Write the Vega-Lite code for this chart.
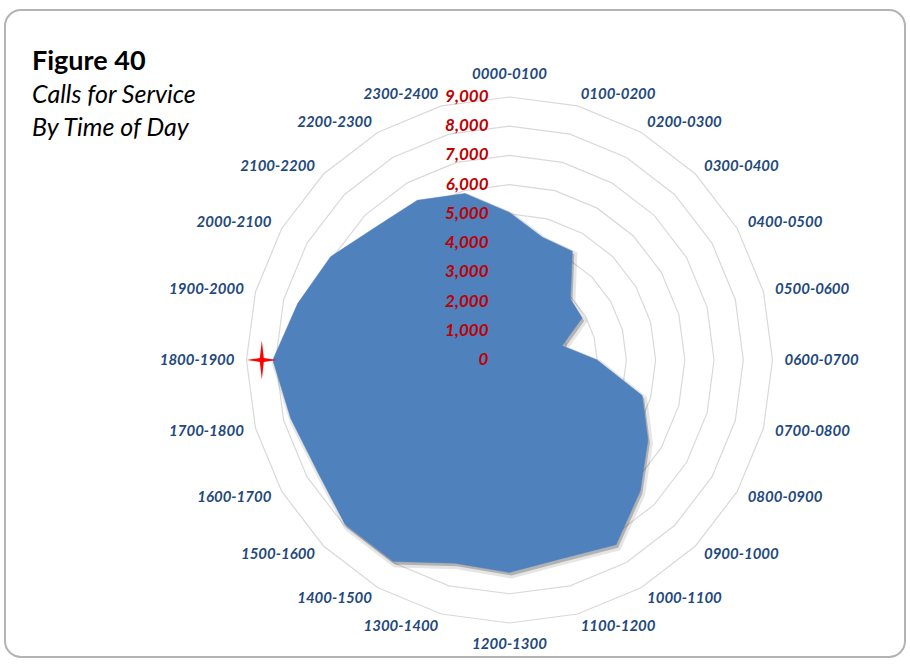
{
  "$schema": "https://vega.github.io/schema/vega-lite/v6.json",
  "width": 910,
  "height": 664,
  "autosize": {"type": "fit", "contains": "padding"},
  "padding": {"left": 5, "top": 10, "right": 5, "bottom": 7},
  "background": "white",
  "view": {"stroke": "#B3B3B3", "strokeWidth": 2, "cornerRadius": 16, "fill": "white"},
  "config": {"font": "Lato"},
  "title": {
    "text": "Figure 40",
    "subtitle": ["Calls for Service", "By Time of Day"],
    "anchor": "start",
    "frame": "group",
    "orient": "top",
    "offset": -132,
    "dx": 27,
    "font": "Lato",
    "fontSize": 27,
    "fontWeight": "bold",
    "color": "#000000",
    "subtitleFont": "Lato",
    "subtitleFontSize": 25,
    "subtitleFontStyle": "italic",
    "subtitleColor": "#000000",
    "subtitleLineHeight": 33,
    "subtitlePadding": 7
  },
  "datasets": {
    "calls": [
      {"hour": 0, "label": "0000-0100", "calls": 5050},
      {"hour": 1, "label": "0100-0200", "calls": 4350},
      {"hour": 2, "label": "0200-0300", "calls": 4300},
      {"hour": 3, "label": "0300-0400", "calls": 2950},
      {"hour": 4, "label": "0400-0500", "calls": 2870},
      {"hour": 5, "label": "0500-0600", "calls": 1870},
      {"hour": 6, "label": "0600-0700", "calls": 3000},
      {"hour": 7, "label": "0700-0800", "calls": 4700},
      {"hour": 8, "label": "0800-0900", "calls": 5470},
      {"hour": 9, "label": "0900-1000", "calls": 6330},
      {"hour": 10, "label": "1000-1100", "calls": 7300},
      {"hour": 11, "label": "1100-1200", "calls": 7030},
      {"hour": 12, "label": "1200-1300", "calls": 7270},
      {"hour": 13, "label": "1300-1400", "calls": 7200},
      {"hour": 14, "label": "1400-1500", "calls": 7960},
      {"hour": 15, "label": "1500-1600", "calls": 7960},
      {"hour": 16, "label": "1600-1700", "calls": 7600},
      {"hour": 17, "label": "1700-1800", "calls": 7750},
      {"hour": 18, "label": "1800-1900", "calls": 8100},
      {"hour": 19, "label": "1900-2000", "calls": 7500},
      {"hour": 20, "label": "2000-2100", "calls": 7070},
      {"hour": 21, "label": "2100-2200", "calls": 6450},
      {"hour": 22, "label": "2200-2300", "calls": 6310},
      {"hour": 23, "label": "2300-2400", "calls": 5900}
    ],
    "rings": [
      {"level": 1000, "hour": [0,1,2,3,4,5,6,7,8,9,10,11,12,13,14,15,16,17,18,19,20,21,22,23]},
      {"level": 2000, "hour": [0,1,2,3,4,5,6,7,8,9,10,11,12,13,14,15,16,17,18,19,20,21,22,23]},
      {"level": 3000, "hour": [0,1,2,3,4,5,6,7,8,9,10,11,12,13,14,15,16,17,18,19,20,21,22,23]},
      {"level": 4000, "hour": [0,1,2,3,4,5,6,7,8,9,10,11,12,13,14,15,16,17,18,19,20,21,22,23]},
      {"level": 5000, "hour": [0,1,2,3,4,5,6,7,8,9,10,11,12,13,14,15,16,17,18,19,20,21,22,23]},
      {"level": 6000, "hour": [0,1,2,3,4,5,6,7,8,9,10,11,12,13,14,15,16,17,18,19,20,21,22,23]},
      {"level": 7000, "hour": [0,1,2,3,4,5,6,7,8,9,10,11,12,13,14,15,16,17,18,19,20,21,22,23]},
      {"level": 8000, "hour": [0,1,2,3,4,5,6,7,8,9,10,11,12,13,14,15,16,17,18,19,20,21,22,23]},
      {"level": 9000, "hour": [0,1,2,3,4,5,6,7,8,9,10,11,12,13,14,15,16,17,18,19,20,21,22,23]}
    ],
    "ticks": [
      {"value": 0}, {"value": 1000}, {"value": 2000}, {"value": 3000}, {"value": 4000},
      {"value": 5000}, {"value": 6000}, {"value": 7000}, {"value": 8000}, {"value": 9000}
    ]
  },
  "layer": [
    {
      "data": {"name": "rings"},
      "transform": [
        {"flatten": ["hour"]},
        {"calculate": "datum.level * sin(datum.hour * PI / 12)", "as": "px"},
        {"calculate": "datum.level * cos(datum.hour * PI / 12)", "as": "py"}
      ],
      "mark": {"type": "line", "interpolate": "linear-closed", "stroke": "#D9D9D9", "strokeWidth": 1.2},
      "encoding": {
        "x": {"field": "px", "type": "quantitative", "scale": {"domain": [-17265, 13535], "nice": false, "zero": false}, "axis": null},
        "y": {"field": "py", "type": "quantitative", "scale": {"domain": [-10164, 11977], "nice": false, "zero": false}, "axis": null},
        "detail": {"field": "level", "type": "nominal"},
        "order": {"field": "hour", "type": "quantitative"}
      }
    },
    {
      "data": {"name": "calls"},
      "transform": [
        {"calculate": "datum.calls * sin(datum.hour * PI / 12)", "as": "px"},
        {"calculate": "datum.calls * cos(datum.hour * PI / 12)", "as": "py"}
      ],
      "mark": {"type": "line", "interpolate": "linear-closed", "fill": "#000000", "fillOpacity": 0.22, "stroke": "#000000", "strokeOpacity": 0.1, "strokeWidth": 6, "xOffset": 2, "yOffset": 3},
      "encoding": {
        "x": {"field": "px", "type": "quantitative"},
        "y": {"field": "py", "type": "quantitative"},
        "order": {"field": "hour", "type": "quantitative"}
      }
    },
    {
      "data": {"name": "calls"},
      "transform": [
        {"calculate": "datum.calls * sin(datum.hour * PI / 12)", "as": "px"},
        {"calculate": "datum.calls * cos(datum.hour * PI / 12)", "as": "py"}
      ],
      "mark": {"type": "line", "interpolate": "linear-closed", "fill": "#4F81BD", "stroke": "#4F81BD", "strokeWidth": 0.5},
      "encoding": {
        "x": {"field": "px", "type": "quantitative"},
        "y": {"field": "py", "type": "quantitative"},
        "order": {"field": "hour", "type": "quantitative"}
      }
    },
    {
      "data": {"name": "ticks"},
      "mark": {"type": "text", "align": "right", "baseline": "middle", "dx": -21, "fontSize": 17, "fontWeight": "bold", "fontStyle": "italic", "color": "#C00000", "font": "Lato"},
      "encoding": {
        "x": {"datum": 0, "type": "quantitative"},
        "y": {"field": "value", "type": "quantitative"},
        "text": {"field": "value", "type": "quantitative", "format": ","}
      }
    },
    {
      "data": {"name": "calls"},
      "transform": [
        {"filter": "datum.hour > 0 && datum.hour < 12"},
        {"calculate": "9411 * sin(datum.hour * PI / 12)", "as": "px"},
        {"calculate": "9411 * cos(datum.hour * PI / 12)", "as": "py"}
      ],
      "mark": {"type": "text", "align": "left", "baseline": "middle", "fontSize": 15, "fontWeight": "bold", "fontStyle": "italic", "color": "#1F497D", "font": "Lato"},
      "encoding": {
        "x": {"field": "px", "type": "quantitative"},
        "y": {"field": "py", "type": "quantitative"},
        "text": {"field": "label", "type": "nominal"}
      }
    },
    {
      "data": {"name": "calls"},
      "transform": [
        {"filter": "datum.hour > 12"},
        {"calculate": "9411 * sin(datum.hour * PI / 12)", "as": "px"},
        {"calculate": "9411 * cos(datum.hour * PI / 12)", "as": "py"}
      ],
      "mark": {"type": "text", "align": "right", "baseline": "middle", "fontSize": 15, "fontWeight": "bold", "fontStyle": "italic", "color": "#1F497D", "font": "Lato"},
      "encoding": {
        "x": {"field": "px", "type": "quantitative"},
        "y": {"field": "py", "type": "quantitative"},
        "text": {"field": "label", "type": "nominal"}
      }
    },
    {
      "data": {"name": "calls"},
      "transform": [
        {"filter": "datum.hour == 0"},
        {"calculate": "0", "as": "px"},
        {"calculate": "9411", "as": "py"}
      ],
      "mark": {"type": "text", "align": "center", "baseline": "bottom", "dy": -3, "fontSize": 15, "fontWeight": "bold", "fontStyle": "italic", "color": "#1F497D", "font": "Lato"},
      "encoding": {
        "x": {"field": "px", "type": "quantitative"},
        "y": {"field": "py", "type": "quantitative"},
        "text": {"field": "label", "type": "nominal"}
      }
    },
    {
      "data": {"name": "calls"},
      "transform": [
        {"filter": "datum.hour == 12"},
        {"calculate": "0", "as": "px"},
        {"calculate": "-9411", "as": "py"}
      ],
      "mark": {"type": "text", "align": "center", "baseline": "top", "dy": 2, "fontSize": 15, "fontWeight": "bold", "fontStyle": "italic", "color": "#1F497D", "font": "Lato"},
      "encoding": {
        "x": {"field": "px", "type": "quantitative"},
        "y": {"field": "py", "type": "quantitative"},
        "text": {"field": "label", "type": "nominal"}
      }
    },
    {
      "data": {"name": "calls"},
      "transform": [
        {"joinaggregate": [{"op": "max", "field": "calls", "as": "maxCalls"}]},
        {"filter": "datum.calls == datum.maxCalls"},
        {"calculate": "datum.calls * sin(datum.hour * PI / 12)", "as": "px"},
        {"calculate": "datum.calls * cos(datum.hour * PI / 12)", "as": "py"}
      ],
      "mark": {"type": "point", "shape": "M0,-1.3L0.13,-0.13L1,0L0.13,0.13L0,1.3L-0.13,0.13L-1,0L-0.13,-0.13Z", "size": 900, "filled": true, "fill": "#FF0000", "stroke": null, "opacity": 1, "xOffset": -11},
      "encoding": {
        "x": {"field": "px", "type": "quantitative"},
        "y": {"field": "py", "type": "quantitative"}
      }
    }
  ]
}
